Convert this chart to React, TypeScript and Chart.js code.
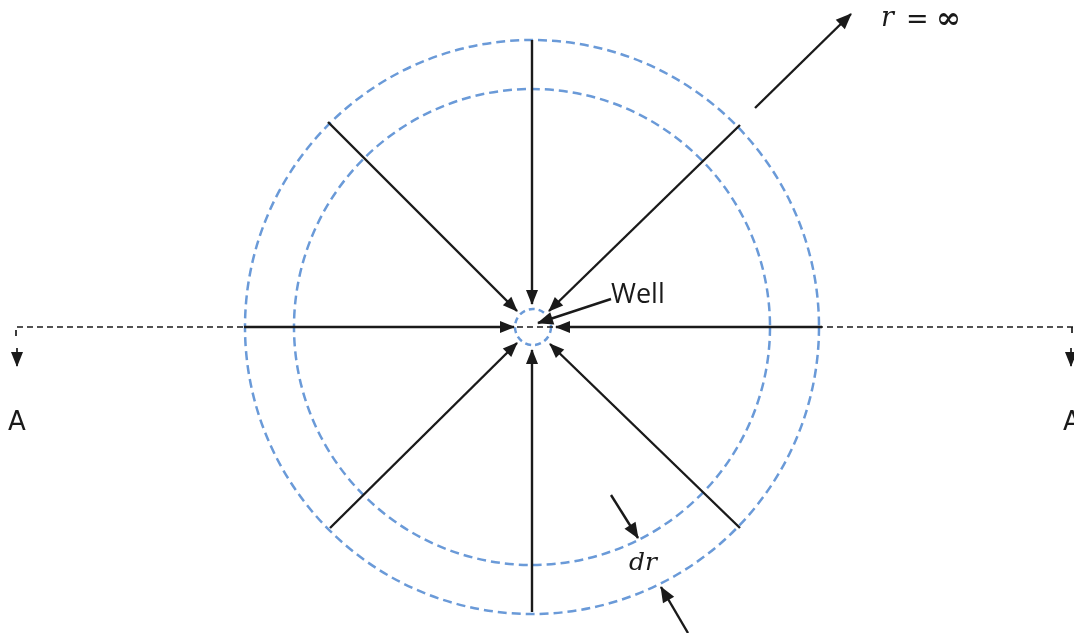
import { useEffect, useRef } from 'react';
import { Chart, registerables } from 'chart.js';

Chart.register(...registerables);

// Diagram coordinate system (units, y grows downward)
const X_RANGE = [0, 1074];
const Y_RANGE = [0, 633];

// Dashed circles: outer boundary, inner ring (r + dr), well bore
const circleNames = ['outer', 'inner', 'well'];
const circleCX = [532, 532, 533];
const circleCY = [327, 327, 327];
const circleR = [287, 238, 18];

// Radial flow arrows (start on the outer circle, tip at the well)
const radialStartX = [532, 532, 244, 822, 328, 740, 330, 740];
const radialStartY = [40, 612, 327, 327, 122, 125, 528, 528];
const radialEndX = [532, 532, 514, 556, 517, 549, 517, 550];
const radialEndY = [304, 350, 327, 327, 311, 311, 343, 344];

// Annotation arrows: r = ∞, Well, dr (two)
const noteStartX = [755, 611, 611, 688];
const noteStartY = [108, 299, 495, 633];
const noteEndX = [851, 538, 638, 661];
const noteEndY = [14, 323, 538, 587];

// Section line A–A
const sectionX = [16, 16, 1074];
const sectionY = [336, 327, 327];
const sectionRightX = [1072, 1072];
const sectionRightY = [327, 336];
const sectionArrowX = [17, 1071];
const sectionArrowTopY = [348, 348];
const sectionArrowTipY = [366, 366];

// Text labels
const labelTexts = ['Well', 'A', 'A'];
const labelX = [611, 8, 1063];
const labelY = [303, 430, 430];

const CIRCLE_COLOR = '#6a9ad8';
const LINE_COLOR = '#1a1a1a';

export default function App() {
  const canvasRef = useRef<HTMLCanvasElement | null>(null);

  useEffect(() => {
    const canvas = canvasRef.current;
    if (!canvas) return;

    const datasets: any[] = [];
    const mkLine = (xs: number[], ys: number[], extra: any) => ({
      data: xs.map((x, i) => ({ x, y: ys[i] })),
      showLine: true,
      borderColor: LINE_COLOR,
      borderWidth: 2.4,
      pointRadius: 0,
      fill: false,
      ...extra,
    });

    for (let i = 0; i < radialStartX.length; i++) {
      datasets.push(
        mkLine([radialStartX[i], radialEndX[i]], [radialStartY[i], radialEndY[i]], {
          arrow: true,
          arrowLength: 14,
          arrowWidth: 6,
        })
      );
    }
    for (let i = 0; i < noteStartX.length; i++) {
      datasets.push(
        mkLine([noteStartX[i], noteEndX[i]], [noteStartY[i], noteEndY[i]], {
          arrow: true,
          arrowLength: 15,
          arrowWidth: 6.5,
        })
      );
    }
    datasets.push(mkLine(sectionX, sectionY, { borderDash: [6, 4], borderWidth: 1.7 }));
    datasets.push(mkLine(sectionRightX, sectionRightY, { borderDash: [6, 4], borderWidth: 1.7 }));
    for (let i = 0; i < sectionArrowX.length; i++) {
      datasets.push(
        mkLine([sectionArrowX[i], sectionArrowX[i]], [sectionArrowTopY[i], sectionArrowTipY[i]], {
          arrow: true,
          arrowLength: 14,
          arrowWidth: 6,
          borderWidth: 1.7,
        })
      );
    }

    const circlesPlugin = {
      id: 'circles',
      beforeDatasetsDraw(chart: any) {
        const { ctx, scales } = chart;
        const xs = scales.x;
        const ys = scales.y;
        ctx.save();
        ctx.strokeStyle = CIRCLE_COLOR;
        ctx.lineWidth = 2.5;
        for (let i = 0; i < circleNames.length; i++) {
          const cx = xs.getPixelForValue(circleCX[i]);
          const cy = ys.getPixelForValue(circleCY[i]);
          const r = xs.getPixelForValue(circleCX[i] + circleR[i]) - cx;
          ctx.setLineDash(circleNames[i] === 'well' ? [6, 4] : [9, 5]);
          ctx.beginPath();
          ctx.arc(cx, cy, r, 0, Math.PI * 2);
          ctx.stroke();
        }
        ctx.restore();
      },
    };

    const arrowPlugin = {
      id: 'arrowHeads',
      afterDatasetsDraw(chart: any) {
        const ctx = chart.ctx;
        chart.data.datasets.forEach((ds: any, i: number) => {
          if (!ds.arrow) return;
          const pts = chart.getDatasetMeta(i).data;
          const a = pts[pts.length - 2];
          const b = pts[pts.length - 1];
          const ang = Math.atan2(b.y - a.y, b.x - a.x);
          const c = Math.cos(ang);
          const s = Math.sin(ang);
          const L = ds.arrowLength;
          const w = ds.arrowWidth;
          ctx.save();
          ctx.fillStyle = ds.borderColor;
          ctx.beginPath();
          ctx.moveTo(b.x + c, b.y + s);
          ctx.lineTo(b.x - L * c + w * s, b.y - L * s - w * c);
          ctx.lineTo(b.x - L * c - w * s, b.y - L * s + w * c);
          ctx.closePath();
          ctx.fill();
          ctx.restore();
        });
      },
    };

    const textPlugin = {
      id: 'labels',
      afterDraw(chart: any) {
        const { ctx, scales } = chart;
        const xs = scales.x;
        const ys = scales.y;
        ctx.save();
        ctx.textBaseline = 'alphabetic';
        ctx.textAlign = 'left';
        for (let i = 0; i < labelTexts.length; i++) {
          ctx.fillStyle = '#1a1a1a';
          ctx.font = labelTexts[i] === 'Well' ? '27px "Open Sans"' : '26px "DejaVu Sans"';
          ctx.fillText(labelTexts[i], xs.getPixelForValue(labelX[i]), ys.getPixelForValue(labelY[i]));
        }
        // r = ∞
        ctx.fillStyle = '#1a1a1a';
        ctx.font = 'italic 27px "DejaVu Serif"';
        ctx.fillText('r', xs.getPixelForValue(881), ys.getPixelForValue(26));
        ctx.font = '27px "DejaVu Serif"';
        ctx.fillText('=', xs.getPixelForValue(906), ys.getPixelForValue(28));
        ctx.font = 'bold 30px "DejaVu Serif"';
        ctx.fillText('∞', xs.getPixelForValue(936), ys.getPixelForValue(28));
        // dr
        ctx.font = 'italic 25px "DejaVu Serif"';
        ctx.fillText('dr', xs.getPixelForValue(629), ys.getPixelForValue(570));
        ctx.restore();
      },
    };

    const chart = new Chart(canvas, {
      type: 'scatter',
      data: { datasets },
      options: {
        animation: false,
        responsive: true,
        maintainAspectRatio: false,
        events: [],
        layout: { padding: 0 },
        elements: { line: { tension: 0 }, point: { radius: 0, hoverRadius: 0 } },
        plugins: { legend: { display: false }, tooltip: { enabled: false } },
        scales: {
          x: { type: 'linear', display: false, min: X_RANGE[0], max: X_RANGE[1] },
          y: { type: 'linear', display: false, min: Y_RANGE[0], max: Y_RANGE[1], reverse: true },
        },
      } as any,
      plugins: [circlesPlugin, arrowPlugin, textPlugin],
    });

    return () => chart.destroy();
  }, []);

  return (
    <div style={{ position: 'absolute', left: 0, top: 0, width: 1074, height: 633, background: '#ffffff' }}>
      <canvas ref={canvasRef} />
    </div>
  );
}
